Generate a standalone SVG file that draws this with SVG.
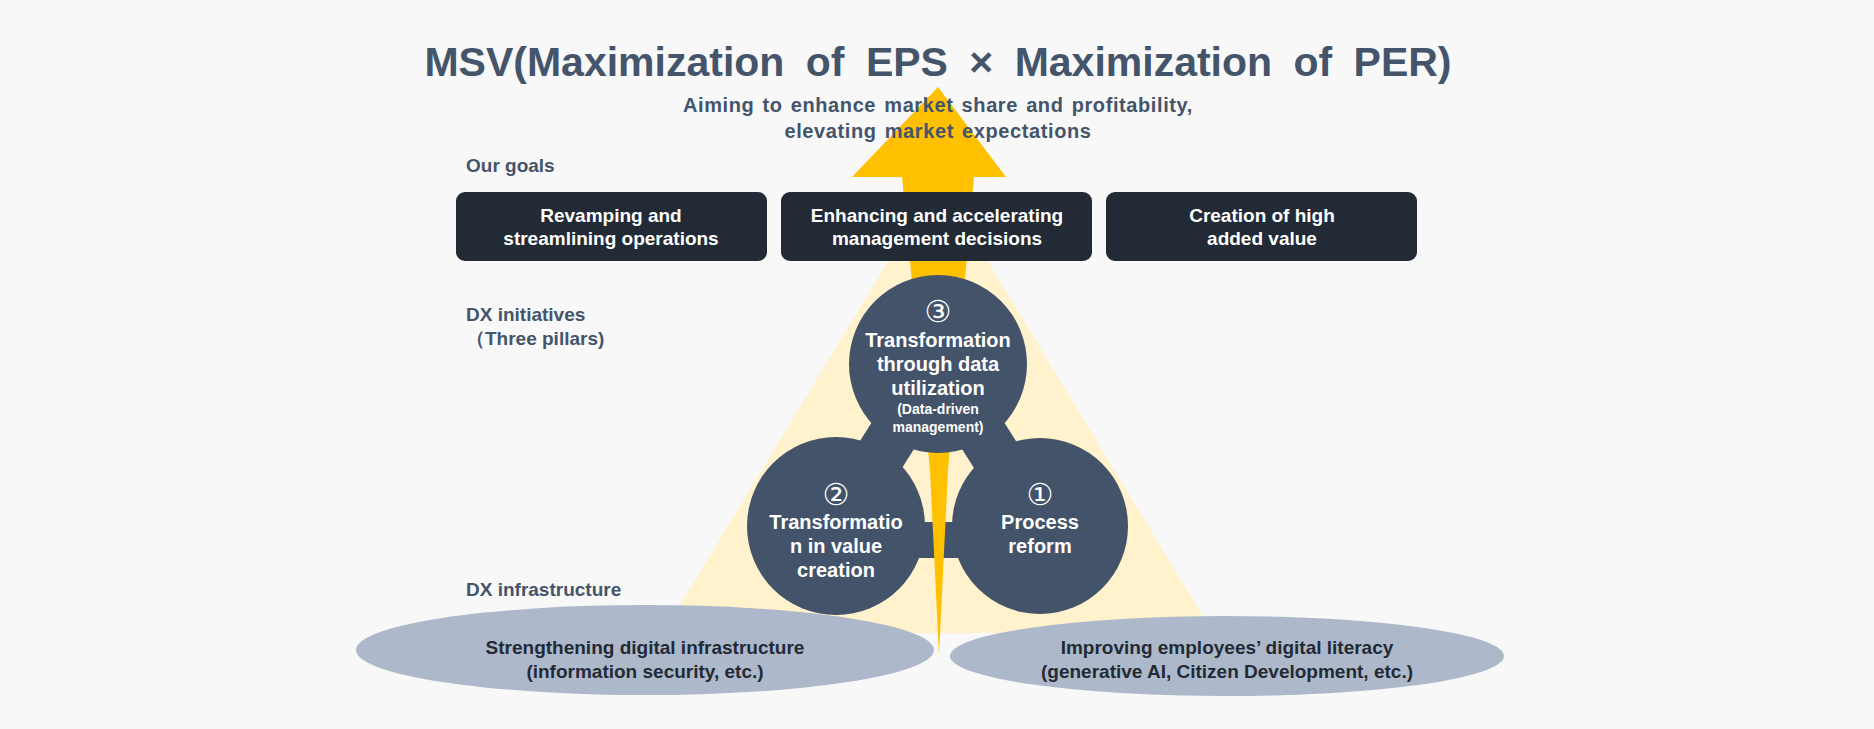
<svg xmlns="http://www.w3.org/2000/svg" width="1874" height="729" viewBox="0 0 1874 729">
<style>
text{font-family:"Liberation Sans",Arial,sans-serif;font-weight:bold}
.h{fill:#44546A}
.lbl{fill:#44546A;font-size:19px}
.box{fill:#222A35}
.bt{fill:#fff;font-size:19px;text-anchor:middle}
.ct{fill:#fff;font-size:20px;text-anchor:middle}
.num{fill:#fff;font-size:30px;text-anchor:middle;font-weight:normal;font-family:"DejaVu Sans","Noto Sans CJK JP",sans-serif}
.cs{fill:#fff;font-size:14px;text-anchor:middle}
.circ{fill:#435369}
.ell{fill:#ADB9CA}
.et{fill:#222A35;font-size:19px;text-anchor:middle}
</style>
<rect width="1874" height="729" fill="#F8F8F8"/>
<polygon points="938,179 663,633 1213,633" fill="#FFF2CC"/>
<g id="connectors">
<line x1="938" y1="364" x2="836" y2="526" stroke="#435369" stroke-width="50"/>
<line x1="938" y1="364" x2="1040" y2="526" stroke="#435369" stroke-width="50"/>
<line x1="836" y1="540" x2="1040" y2="540" stroke="#435369" stroke-width="36"/>
<polygon points="938,87 1006,177 974,177 948,470 939,655 930,470 902,177 852,177" fill="#FFC000"/>
</g>
<text class="h" x="938" y="76" font-size="41" text-anchor="middle" word-spacing="10">MSV(Maximization of EPS × Maximization of PER)</text>
<text class="h" x="938" y="112" font-size="20" text-anchor="middle" letter-spacing="0.6" word-spacing="2">Aiming to enhance market share and profitability,</text>
<text class="h" x="938" y="138" font-size="20" text-anchor="middle" letter-spacing="0.6" word-spacing="2">elevating market expectations</text>
<text class="lbl" x="466" y="172">Our goals</text>
<text class="lbl" x="466" y="321">DX initiatives</text>
<text class="lbl" x="466" y="345">（Three pillars)</text>
<text class="lbl" x="466" y="596">DX infrastructure</text>
<g id="goal1"><rect class="box" x="456" y="192" width="311" height="69" rx="9"/><text class="bt" x="611" y="222">Revamping and</text><text class="bt" x="611" y="245">streamlining operations</text></g>
<g id="goal2"><rect class="box" x="781" y="192" width="311" height="69" rx="9"/><text class="bt" x="937" y="222">Enhancing and accelerating</text><text class="bt" x="937" y="245">management decisions</text></g>
<g id="goal3"><rect class="box" x="1106" y="192" width="311" height="69" rx="9"/><text class="bt" x="1262" y="222">Creation of high</text><text class="bt" x="1262" y="245">added value</text></g>
<g id="pillar3"><circle class="circ" cx="938" cy="364" r="89"/>
<text class="num" x="938" y="322">③</text>
<text class="ct" x="938" y="347">Transformation</text><text class="ct" x="938" y="371">through data</text><text class="ct" x="938" y="395">utilization</text>
<text class="cs" x="938" y="414">(Data-driven</text><text class="cs" x="938" y="432">management)</text></g>
<g id="pillar2"><circle class="circ" cx="836" cy="526" r="89"/>
<text class="num" x="836" y="505">②</text>
<text class="ct" x="836" y="529">Transformatio</text><text class="ct" x="836" y="553">n in value</text><text class="ct" x="836" y="577">creation</text></g>
<g id="pillar1"><circle class="circ" cx="1040" cy="526" r="88"/>
<text class="num" x="1040" y="505">①</text>
<text class="ct" x="1040" y="529">Process</text><text class="ct" x="1040" y="553">reform</text></g>
<g id="infra1"><ellipse class="ell" cx="645" cy="650" rx="289" ry="45"/><text class="et" x="645" y="654">Strengthening digital infrastructure</text><text class="et" x="645" y="678">(information security, etc.)</text></g>
<g id="infra2"><ellipse class="ell" cx="1227" cy="656" rx="277" ry="40"/><text class="et" x="1227" y="654">Improving employees’ digital literacy</text><text class="et" x="1227" y="678">(generative AI, Citizen Development, etc.)</text></g>
</svg>
